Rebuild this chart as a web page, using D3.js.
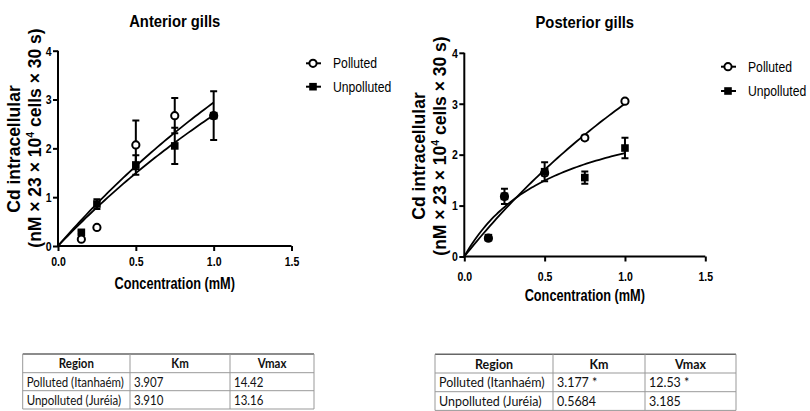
<!DOCTYPE html>
<html>
<head>
<meta charset="utf-8">
<script src="https://cdn.jsdelivr.net/npm/d3@7"></script>
<style>
  body { margin: 0; background: #fff; }
  svg { display: block; }
  .tick-label { font-family: "Liberation Sans", Arial, sans-serif; font-weight: bold; font-size: 13.5px; }
  .title { font-family: "Liberation Sans", Arial, sans-serif; font-weight: bold; font-size: 17px; }
  .axis-title { font-family: "Liberation Sans", Arial, sans-serif; font-weight: bold; }
  .legend-text { font-family: "Liberation Sans", Arial, sans-serif; font-size: 14.5px; }
  .cell { font-family: Lato, "Open Sans", sans-serif; }
</style>
</head>
<body>
<svg id="chart" width="810" height="411"></svg>
<script>
// data
var concentrations = [0.15, 0.25, 0.5, 0.75, 1.0];
var xTicks = [0, 0.5, 1.0, 1.5];
var yTicks = [0, 1, 2, 3, 4];

var anteriorPolluted = [0.14, 0.38, 2.07, 2.67, 2.67];
var anteriorPollutedErr = [0, 0, 0.5, 0.36, 0.05];
var anteriorUnpolluted = [0.28, 0.86, 1.66, 2.05, 2.67];
var anteriorUnpollutedErr = [0.03, 0.1, 0.2, 0.37, 0.5];

var posteriorPolluted = [0.36, 1.18, 1.64, 2.33, 3.05];
var posteriorPollutedErr = [0.03, 0.05, 0.05, 0.04, 0.03];
var posteriorUnpolluted = [0.37, 1.18, 1.665, 1.55, 2.13];
var posteriorUnpollutedErr = [0.03, 0.15, 0.185, 0.12, 0.2];

var seriesNames = ["Polluted", "Unpolluted"];
var tableHeader = ["Region", "Km", "Vmax"];
var tableRegions = ["Polluted (Itanhaém)", "Unpolluted (Juréia)"];
var anteriorKm = ["3.907", "3.910"];
var anteriorVmax = ["14.42", "13.16"];
var posteriorKm = ["3.177 *", "0.5684"];
var posteriorVmax = ["12.53 *", "3.185"];

var svg = d3.select("#chart");

function translate(x, y) {
  return "translate(" + x + "," + y + ")";
}

// text that is narrowed horizontally (the source picture is squeezed)
function narrowText(parent, x, y, sx) {
  return parent.append("text")
    .attr("transform", translate(x, y) + " scale(" + sx + ",1)");
}

// Michaelis-Menten fit from the table parameters
function mmCurve(km, vmax) {
  var pts = [];
  for (var i = 0; i <= 50; i++) {
    var s = i / 50;
    pts.push([s, vmax * s / (km + s)]);
  }
  return pts;
}

var drawPanel = function(p) {
  var x = d3.scaleLinear().domain([0, 1.5]).range([p.x0, p.x1]);
  var y = d3.scaleLinear().domain([0, 4]).range([p.y0, p.y1]);
  var g = svg.append("g");

  narrowText(g, (p.x0 + p.x1) / 2, p.titleY, 0.87)
    .attr("class", "title")
    .attr("text-anchor", "middle")
    .text(p.title);

  // axes
  var tickSx = 0.78;
  var xAxis = g.append("g")
    .attr("transform", translate(0, p.y0))
    .call(d3.axisBottom(x).tickValues(xTicks).tickSize(5).tickFormat(d3.format(".1f")));
  var yAxis = g.append("g")
    .attr("transform", translate(p.x0, 0))
    .call(d3.axisLeft(y).tickValues(yTicks).tickSize(5).tickFormat(d3.format("d")));

  [xAxis, yAxis].forEach(function(a) {
    a.select(".domain").attr("stroke", "#000").attr("stroke-width", 2);
    a.selectAll(".tick line").attr("stroke", "#000").attr("stroke-width", 2);
    a.selectAll(".tick text").attr("class", "tick-label").attr("fill", "#000")
      .attr("transform", "scale(" + tickSx + ",1)");
  });
  xAxis.select(".domain").attr("d", "M" + p.x0 + ",0H" + p.x1);
  yAxis.select(".domain").attr("d", "M0," + p.y0 + "V" + p.y1);
  xAxis.selectAll(".tick text").attr("y", p.xLabelOff).attr("dy", 0);
  yAxis.selectAll(".tick text").attr("x", -6.5 / tickSx);

  narrowText(g, (p.x0 + p.x1) / 2, p.xTitleY, 0.75)
    .attr("class", "axis-title")
    .attr("font-size", 17)
    .attr("text-anchor", "middle")
    .text("Concentration (mM)");

  g.append("text")
    .attr("class", "axis-title")
    .attr("font-size", 17.5)
    .attr("text-anchor", "middle")
    .attr("transform", translate(p.yTitleX1, p.yTitleC1) + " rotate(-90)")
    .text("Cd intracellular");

  var t2 = g.append("text")
    .attr("class", "axis-title")
    .attr("font-size", 17.5)
    .attr("text-anchor", "middle")
    .attr("transform", translate(p.yTitleX2, p.yTitleC2) + " rotate(-90)");
  t2.append("tspan").text("(nM \u00d7 23 \u00d7 10");
  t2.append("tspan").attr("font-size", 10.5).attr("dy", -7).text("4");
  t2.append("tspan").attr("dy", 7).text(" cells \u00d7 30 s)");

  // fitted curves
  var line = d3.line()
    .x(function(d) { return x(d[0]); })
    .y(function(d) { return y(d[1]); })
    .curve(d3.curveMonotoneX);

  p.series.forEach(function(s) {
    g.append("path")
      .datum(mmCurve(parseFloat(s.km), parseFloat(s.vmax)))
      .attr("fill", "none")
      .attr("stroke", "#000")
      .attr("stroke-width", 1.8)
      .attr("d", line);
  });

  // error bars and markers
  p.series.forEach(function(s, si) {
    var pts = concentrations.map(function(c, i) {
      return { c: c, v: s.values[i], e: s.err[i] };
    });
    var eb = g.selectAll(null).data(pts.filter(function(d) { return d.e > 0; })).enter();
    eb.append("path")
      .attr("fill", "none")
      .attr("stroke", "#000")
      .attr("stroke-width", 2)
      .attr("d", function(d) {
        var cx = x(d.c), top = y(d.v + d.e), bot = y(d.v - d.e);
        return "M" + cx + "," + top + "V" + bot +
          "M" + (cx - 3.5) + "," + top + "H" + (cx + 3.5) +
          "M" + (cx - 3.5) + "," + bot + "H" + (cx + 3.5);
      });
    drawMarkers(g, pts, si, x, y);
  });

  // legend
  var legend = g.append("g").attr("transform", translate(p.legendX, p.legendY));
  var items = legend.selectAll("g")
    .data(seriesNames)
    .enter()
    .append("g")
    .attr("transform", function(d, i) { return translate(0, i * p.legendStep); });
  items.append("line")
    .attr("x1", -7).attr("x2", 8)
    .attr("stroke", "#000").attr("stroke-width", 2);
  items.each(function(d, i) {
    var it = d3.select(this);
    drawMarkers(it, [{ c: 0, v: 0 }], i, function() { return 0; }, function() { return 0; });
    narrowText(it, 20, 5, 0.84)
      .attr("class", "legend-text")
      .text(d);
  });
};

function drawMarkers(g, pts, si, x, y) {
  if (si === 0) {
    g.selectAll(null).data(pts).enter()
      .append("circle")
      .attr("cx", function(d) { return x(d.c); })
      .attr("cy", function(d) { return y(d.v); })
      .attr("r", 3.6)
      .attr("fill", "#fff")
      .attr("stroke", "#000")
      .attr("stroke-width", 2);
  } else {
    g.selectAll(null).data(pts).enter()
      .append("rect")
      .attr("x", function(d) { return x(d.c) - 3.8; })
      .attr("y", function(d) { return y(d.v) - 3.8; })
      .attr("width", 7.6)
      .attr("height", 7.6)
      .attr("fill", "#000");
  }
}

var drawTable = function(t) {
  var g = svg.append("g");
  var rows = [tableHeader].concat(tableRegions.map(function(r, i) {
    return [r, t.km[i], t.vmax[i]];
  }));
  var cols = t.cols;
  rows.forEach(function(row, ri) {
    row.forEach(function(cell, ci) {
      var head = ri === 0;
      var tx = head ? (cols[ci] + cols[ci + 1]) / 2 : cols[ci] + 4;
      narrowText(g, tx, (t.rows[ri] + t.rows[ri + 1]) / 2, t.sx)
        .attr("class", "cell")
        .attr("font-size", t.fontSize)
        .attr("font-weight", head ? "bold" : "normal")
        .attr("text-anchor", head ? "middle" : "start")
        .attr("dy", "0.36em")
        .attr("fill", "#111")
        .text(cell);
    });
  });
  // grid lines
  t.rows.forEach(function(ry, i) {
    g.append("line")
      .attr("x1", cols[0]).attr("x2", cols[cols.length - 1])
      .attr("y1", ry).attr("y2", ry)
      .attr("stroke", i === 0 ? "#666" : "#999")
      .attr("stroke-width", i === 0 ? 1.5 : 1);
  });
  cols.forEach(function(cx) {
    g.append("line")
      .attr("x1", cx).attr("x2", cx)
      .attr("y1", t.rows[0]).attr("y2", t.rows[t.rows.length - 1])
      .attr("stroke", "#999")
      .attr("stroke-width", 1);
  });
};

drawPanel({
  title: "Anterior gills", titleY: 27,
  x0: 58, x1: 291.5, y0: 246, y1: 50.7,
  xLabelOff: 20.5, xTitleY: 289,
  yTitleX1: 20, yTitleC1: 149, yTitleX2: 41, yTitleC2: 138,
  legendX: 313, legendY: 63.3, legendStep: 23.4,
  series: [
    { values: anteriorPolluted, err: anteriorPollutedErr, km: anteriorKm[0], vmax: anteriorVmax[0] },
    { values: anteriorUnpolluted, err: anteriorUnpollutedErr, km: anteriorKm[1], vmax: anteriorVmax[1] }
  ]
});

drawPanel({
  title: "Posterior gills", titleY: 28,
  x0: 464.3, x1: 705.3, y0: 256.5, y1: 52.8,
  xLabelOff: 25, xTitleY: 301,
  yTitleX1: 425, yTitleC1: 156, yTitleX2: 446, yTitleC2: 146,
  legendX: 728, legendY: 66.7, legendStep: 24.3,
  series: [
    { values: posteriorPolluted, err: posteriorPollutedErr, km: posteriorKm[0], vmax: posteriorVmax[0] },
    { values: posteriorUnpolluted, err: posteriorUnpollutedErr, km: posteriorKm[1], vmax: posteriorVmax[1] }
  ]
});

drawTable({ km: anteriorKm, vmax: anteriorVmax, fontSize: 13.5, sx: 0.85,
  cols: [22.7, 130, 230, 314], rows: [354, 372.7, 390.7, 409] });
drawTable({ km: posteriorKm, vmax: posteriorVmax, fontSize: 14, sx: 0.89,
  cols: [435, 553, 645, 736], rows: [354.3, 373, 391.7, 410.4] });
</script>
</body>
</html>
